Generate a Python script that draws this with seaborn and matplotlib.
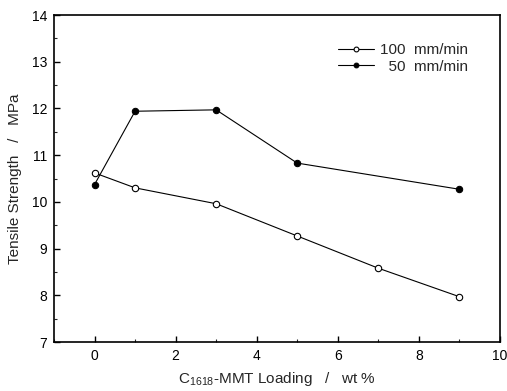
import matplotlib
matplotlib.use("Agg")
import matplotlib.pyplot as plt
import seaborn as sns
import pandas as pd
from matplotlib.ticker import MultipleLocator

# Tensile strength vs. organoclay loading at two crosshead speeds
loading_100 = [0, 1, 3, 5, 7, 9]
strength_100 = [10.62, 10.30, 9.96, 9.27, 8.58, 7.97]
loading_50 = [0, 1, 3, 5, 9]
strength_50 = [10.37, 11.94, 11.97, 10.83, 10.27]
series_names = ["100  mm/min", "  50  mm/min"]

df = pd.concat([
    pd.DataFrame({"loading": loading_100, "strength": strength_100, "speed": series_names[0]}),
    pd.DataFrame({"loading": loading_50, "strength": strength_50, "speed": series_names[1]}),
], ignore_index=True)

sns.set_style("white")
plt.rcParams["font.family"] = ["Liberation Sans", "DejaVu Sans"]
plt.rcParams["mathtext.fontset"] = "custom"
plt.rcParams["mathtext.rm"] = "Liberation Sans"
plt.rcParams["mathtext.it"] = "Liberation Sans"

fig = plt.figure(figsize=(5.07, 3.91), dpi=100)
ax = fig.add_axes([0.1065, 0.1253, 0.8795, 0.8363])

sns.lineplot(data=df, x="loading", y="strength", hue="speed", style="speed",
             palette={series_names[0]: "black", series_names[1]: "black"},
             markers={series_names[0]: "o", series_names[1]: "o"},
             dashes=False, linewidth=0.8, markersize=4.6, ax=ax, legend=False)

# hollow markers for the faster speed
lines = ax.get_lines()
lines[0].set_markerfacecolor("white")
lines[0].set_markeredgecolor("black")
lines[0].set_markeredgewidth(0.8)
lines[1].set_markerfacecolor("black")
lines[1].set_markeredgecolor("black")

ax.set_xlim(-1, 10)
ax.set_ylim(7, 14)
ax.xaxis.set_major_locator(MultipleLocator(2))
ax.xaxis.set_minor_locator(MultipleLocator(1))
ax.yaxis.set_major_locator(MultipleLocator(1))
ax.yaxis.set_minor_locator(MultipleLocator(0.5))
ax.tick_params(which="major", direction="in", length=4, width=1, labelsize=10,
               colors="black", pad=5)
ax.tick_params(which="minor", direction="in", length=2.5, width=0.8)
ax.tick_params(axis="both", which="both", bottom=True, left=True, top=False, right=False)

for sp in ax.spines.values():
    sp.set_color("black")
    sp.set_linewidth(1.2)

ax.set_xlabel(r"C$_{\mathregular{1618}}$-MMT Loading   /   wt %", fontsize=11, labelpad=5)
ax.set_ylabel("Tensile Strength   /   MPa", fontsize=11, labelpad=7)

leg = ax.legend(handles=lines[:2], labels=series_names, loc="upper right",
                bbox_to_anchor=(0.96, 0.955), frameon=False, fontsize=11,
                handlelength=2.4, handletextpad=0.4, labelspacing=0.15,
                markerscale=0.75)

fig.savefig("out.png", dpi=100)
